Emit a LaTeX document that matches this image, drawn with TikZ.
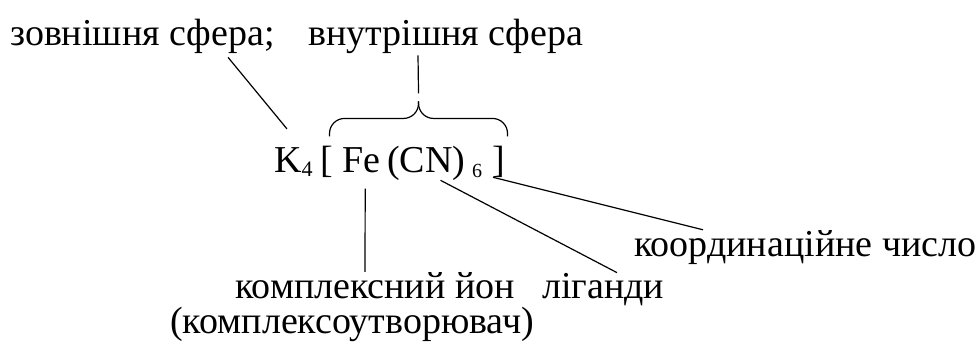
\documentclass[tikz,border=0pt]{standalone}
\usepackage{fontspec}
\setmainfont{Liberation Serif}
\usetikzlibrary{calc}

\begin{document}
\begin{tikzpicture}[
    x=1pt, y=-1pt,
    % --- Text styles ---
    term/.style={inner sep=0pt, anchor=base west, font=\fontsize{38}{44}\selectfont},
    idx/.style={inner sep=0pt, anchor=base west, font=\fontsize{20}{22}\selectfont},
    % --- Line style ---
    link/.style={line width=1.2pt},
]
\useasboundingbox (0,0) rectangle (979,346);

% === Labels above ===
\node[term] (outer) at (10,45)  {зовнішня сфера;};
\node[term] (inner) at (308,45) {внутрішня сфера};

% === The formula, piece by piece ===
\node[term] (k4)  at (274,172) {K{\fontsize{22}{22}\selectfont\raisebox{-4pt}{4}}};
\node[term] (lbr) at (320,172) {[};
\node[term] (fe)  at (342,172) {Fe};
\node[term] (cn)  at (387,172) {(CN)};
\node[idx]  (six) at (472,177) {6};
\node[term] (rbr) at (492,172) {]};

% === Labels below ===
\node[term] (ion)   at (235,298) {комплексний йон};
\node[term] (agent) at (170,333) {(комплексоутворювач)};
\node[term] (lig)   at (542,298) {ліганди};
\node[term] (coord) at (634,256) {координаційне число};

% === Brace over the inner sphere ===
\coordinate (bl) at ($(lbr.north)+(3,-9)$);
\coordinate (br) at ($(rbr.north)+(9,-9)$);
\coordinate (bracetip) at ($(bl)!0.5!(br)+(0,-35)$);
\draw[link, rounded corners=15pt] (bl) |- ($(bracetip)+(0,17)$) -- (bracetip);
\draw[link, rounded corners=15pt] (br) |- ($(bracetip)+(0,17)$) -- (bracetip);

% === Pointer lines ===
\draw[link] ($(outer.south west)+(218,4)$) -- ($(k4.north west)+(13,-18)$);
\draw[link] ($(inner.south west)+(110,2)$) -- ($(bracetip)+(0,-8)$);
\draw[link] ($(fe.south)+(4,16)$) -- ($(ion.north west)+(130,0)$);
\draw[link] ($(cn.south east)+(-25,0)$) -- ($(lig.north west)+(75,0)$);
\draw[link] ($(rbr.south west)+(1,0)$) -- ($(coord.north west)+(69,0)$);

\end{tikzpicture}
\end{document}
